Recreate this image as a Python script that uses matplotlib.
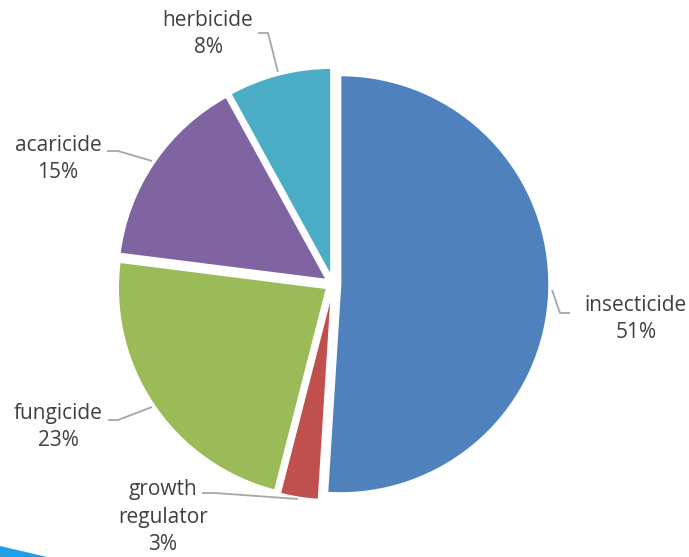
import numpy as np
import matplotlib.pyplot as plt
from matplotlib.patches import Polygon

labels = ['insecticide', 'growth\nregulator', 'fungicide', 'acaricide', 'herbicide']
shares = [51, 3, 23, 15, 8]
colors = ['#4F81BD', '#C0504D', '#9BBB59', '#8064A2', '#4BACC6']

# label block centres and leader line paths, in pixels (y down)
label_xy = [(636, 319), (163, 517), (58, 427), (58, 159), (208, 34)]
leaders = [
    [(552, 290), (560, 313), (570, 313)],
    [(202, 493), (215, 493), (298, 499)],
    [(108, 420), (118, 420), (152, 407)],
    [(107, 151), (118, 151), (152, 161)],
    [(258, 33), (268, 33), (278, 72)],
]

W, H = 689, 557
cx, cy, R = 333, 284, 209


def px(x, y):
    return (x - cx) / R, (cy - y) / R


fig = plt.figure(figsize=(W / 100, H / 100), dpi=100)
ax = fig.add_axes([0, 0, 1, 1])

ax.pie(shares, colors=colors, startangle=90, counterclock=False,
       explode=[0.035] * len(shares), radius=1,
       wedgeprops=dict(edgecolor='white', linewidth=1.5))

for lab, v, (tx, ty), path in zip(labels, shares, label_xy, leaders):
    xs, ys = zip(*[px(a, b) for a, b in path])
    ax.plot(xs, ys, color='#A6A6A6', lw=1.3, solid_capstyle='butt')
    x, y = px(tx, ty)
    ax.text(x, y, f'{lab}\n{v}%', ha='center', va='center',
            fontsize=15, color='#404040', family='Open Sans',
            linespacing=1.4)

# slide accent in the lower left corner
fig.patches.append(Polygon([(0, 11 / H), (47 / W, 0), (0, 0)], closed=True,
                           transform=fig.transFigure, color='#1EA0E8', lw=0))

ax.set_xlim(-cx / R, (W - cx) / R)
ax.set_ylim(-(H - cy) / R, cy / R)
ax.set_aspect('equal')
ax.axis('off')

plt.savefig('out.png', dpi=100)
